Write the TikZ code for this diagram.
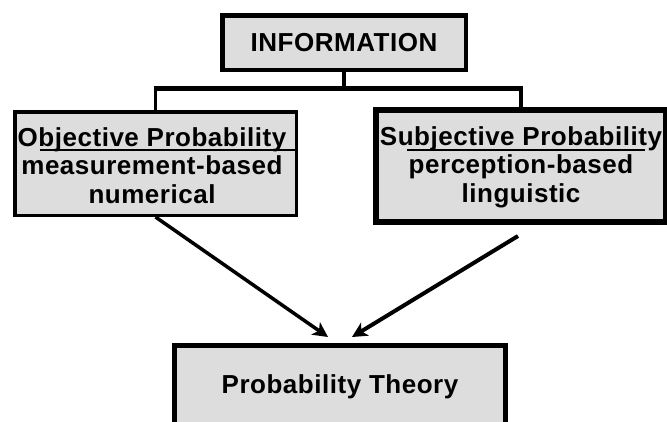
\documentclass[tikz,border=0pt]{standalone}
\usepackage{fontspec}
\setmainfont{Liberation Sans}[LetterSpace=2]
\usetikzlibrary{arrows.meta}
\definecolor{boxgray}{HTML}{DDDDDD}

\begin{document}
\begin{tikzpicture}[x=1pt, y=-1pt,
  box/.style={draw=black, fill=boxgray, inner sep=0pt},
  txt/.style={font=\bfseries\fontsize{26}{28.5}\selectfont, inner sep=0pt, align=center},
  underline/.style={line width=2.5pt},
  bus/.style={line width=3.5pt},
  arrow/.style={-{Stealth[length=15pt,width=15pt,inset=4pt]}}]

\useasboundingbox (0,0) rectangle (667,421);
\clip (0,0) rectangle (667,421);

% top box
\node[box, txt, line width=4.5pt, minimum width=243.5pt, minimum height=54.5pt] (info) at (344,42.5) {INFORMATION};

% left box
\node[box, line width=3.5pt, minimum width=281.5pt, minimum height=103.5pt] (objective) at (155.5,163.5) {};
\node[txt, anchor=north] (objtext) at (152,127) {Objective Probability\\measurement-based\\numerical};
\draw[underline] ([shift={(27,40)}]objective.north west) -- ([shift={(-1.5,40)}]objective.north east);

% right box
\node[box, line width=6pt, minimum width=290pt, minimum height=112pt] (subjective) at (521,166) {};
\node[txt, anchor=north] (subjtext) at (521,126) {Subjective Probability\\perception-based\\linguistic};
\draw[underline] ([shift={(34,43)}]subjective.north west) -- ([shift={(-24,43)}]subjective.north east);

% bottom box
\node[box, line width=5pt, minimum width=331pt, minimum height=80pt] (theory) at (340,385.5) {};
\node[txt, anchor=base] (theorytext) at (340,393) {Probability Theory};

% bracket joining the top box to the two side boxes
\coordinate (junction) at (344,88);
\draw[bus] (info.south) -- (junction);
\draw[bus] (objective.north) |- (junction) -| (subjective.north);
\draw[line width=5pt] (objective.north |- junction) -- (subjective.north |- junction);

% arrows into the bottom box
\coordinate (tipL) at (328,337);
\coordinate (tipR) at (352,337);
\coordinate (startR) at (518,236);
\draw[arrow, line width=3.5pt] (objective.south) -- (tipL);
\draw[arrow, line width=4pt] (startR) -- (tipR);
\end{tikzpicture}
\end{document}
